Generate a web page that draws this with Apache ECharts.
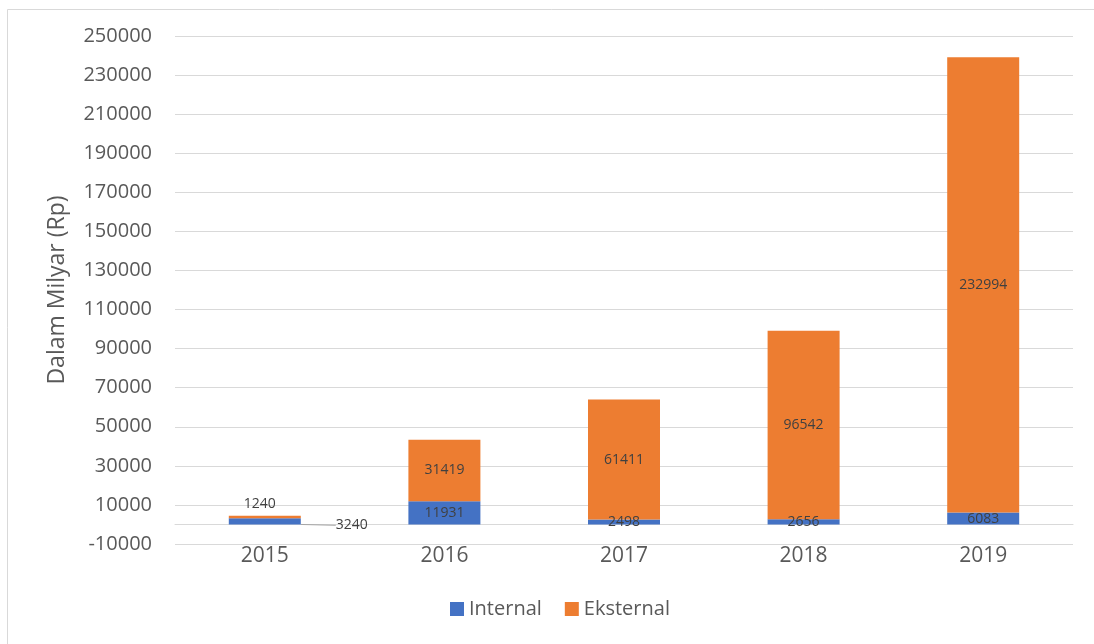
<!DOCTYPE html>
<html>
<head>
<meta charset="utf-8">
<script src="https://cdn.jsdelivr.net/npm/echarts@6/dist/echarts.min.js"></script>
<style>html,body{margin:0;padding:0;background:#fff}#c{width:1094px;height:644px}</style>
</head>
<body>
<div id="c"></div>
<script>
var categories = ['2015', '2016', '2017', '2018', '2019'];
var internalValues = [3240, 11931, 2498, 2656, 6083];
var eksternalValues = [1240, 31419, 61411, 96542, 232994];
var seriesNames = ['Internal', 'Eksternal'];
var yAxisTitle = 'Dalam Milyar (Rp)';

var FONT = 'Open Sans';
var chart = echarts.init(document.getElementById('c'));

var internalData = internalValues.map(function (v, i) {
  if (i === 0) {
    return { value: v, labelLine: { show: true, length2: 0, lineStyle: { color: '#a6a6a6', width: 1 } } };
  }
  return v;
});
var eksternalData = eksternalValues.map(function (v, i) {
  if (i === 0) {
    return { value: v, label: { position: 'top', distance: 5, offset: [-5, 0] } };
  }
  return v;
});

chart.setOption({
  animation: false,
  backgroundColor: '#fff',
  textStyle: { fontFamily: FONT },
  graphic: [{
    type: 'rect', left: 5, top: 7, z: -10,
    shape: { width: 1200, height: 800 },
    style: { fill: 'none', stroke: '#d9d9d9', lineWidth: 1 }
  }],
  grid: { left: 175, right: 21, top: 36, bottom: 100 },
  legend: {
    left: 445, top: 594,
    itemWidth: 14, itemHeight: 14, itemGap: 23,
    icon: 'rect',
    textStyle: { fontFamily: FONT, fontSize: 20, color: '#595959' },
    data: seriesNames
  },
  xAxis: {
    type: 'category',
    data: categories,
    axisLine: { onZero: true, lineStyle: { color: '#d9d9d9', width: 1 } },
    axisTick: { show: false },
    axisLabel: { fontFamily: FONT, fontSize: 21, color: '#595959', margin: 2 }
  },
  yAxis: {
    type: 'value',
    min: -10000, max: 250000, interval: 20000,
    name: yAxisTitle,
    nameLocation: 'middle',
    nameRotate: 90,
    nameGap: 106,
    nameTextStyle: { fontFamily: FONT, fontSize: 23, color: '#595959' },
    axisLine: { show: false },
    axisTick: { show: false },
    splitLine: { lineStyle: { color: '#d9d9d9', width: 1 } },
    axisLabel: {
      fontFamily: FONT, fontSize: 20, color: '#595959', margin: 23,
      formatter: function (v) { return String(v); }
    }
  },
  series: [{
    name: seriesNames[0], type: 'bar', stack: 'total', barWidth: 72,
    itemStyle: { color: '#4472c4' },
    label: { show: true, position: 'inside', fontFamily: FONT, fontSize: 14, color: '#404040' },
    labelLayout: function (p) {
      if (p.dataIndex === 0) { return { dx: 87, dy: 4 }; }
      return {};
    },
    data: internalData
  }, {
    name: seriesNames[1], type: 'bar', stack: 'total', barWidth: 72,
    itemStyle: { color: '#ed7d31' },
    label: { show: true, position: 'inside', fontFamily: FONT, fontSize: 14, color: '#404040' },
    data: eksternalData
  }]
});
</script>
</body>
</html>
